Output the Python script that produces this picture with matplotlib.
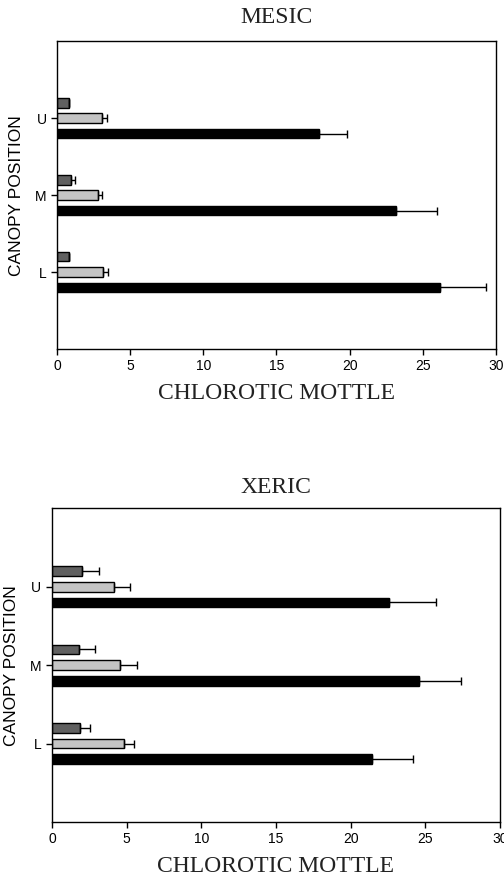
import matplotlib
matplotlib.use("Agg")
import matplotlib.pyplot as plt
import numpy as np

positions = ["L", "M", "U"]

# MESIC
mesic_dark = [0.8, 0.96, 0.8]
mesic_dark_err = [0.05, 0.3, 0.05]
mesic_light = [3.14, 2.78, 3.07]
mesic_light_err = [0.32, 0.32, 0.34]
mesic_black = [26.2, 23.2, 17.9]
mesic_black_err = [3.1, 2.8, 1.9]

# XERIC
xeric_dark = [1.9, 1.81, 2.03]
xeric_dark_err = [0.67, 1.09, 1.1]
xeric_light = [4.8, 4.56, 4.18]
xeric_light_err = [0.72, 1.14, 1.07]
xeric_black = [21.4, 24.6, 22.6]
xeric_black_err = [2.8, 2.8, 3.1]

fig = plt.figure(figsize=(5.04, 8.81), dpi=100)

def panel(rect, title, tpad, dark, dark_e, light, light_e, black, black_e):
    ax = fig.add_axes(rect)
    y = np.arange(1, len(positions) + 1)
    h = 0.125
    off = 0.2
    ekw = dict(ecolor="black", elinewidth=1.0, capsize=3, capthick=1.0)
    for vals, errs, dy, col in [(dark, dark_e, off, "#606060"),
                                (light, light_e, 0.0, "#c4c4c4"),
                                (black, black_e, -off, "black")]:
        ax.barh(y + dy, vals, height=h, color=col, edgecolor="black", linewidth=1.0,
                xerr=[np.zeros(len(errs)), errs], error_kw=ekw)
    ax.set_xlim(0, 30)
    ax.set_ylim(0, 4)
    ax.set_xticks(np.arange(0, 31, 5))
    ax.set_yticks(y)
    ax.set_yticklabels(positions)
    ax.tick_params(direction="out", length=4, width=1, labelsize=10, colors="black")
    for lab in ax.get_xticklabels() + ax.get_yticklabels():
        lab.set_family("Liberation Sans")
    for s in ax.spines.values():
        s.set_linewidth(1.0)
    ax.set_title(title, family="Liberation Serif", fontsize=17, pad=tpad, color="#222222")
    ax.set_xlabel("CHLOROTIC MOTTLE", family="Liberation Serif", fontsize=17, labelpad=7, color="#222222")
    ax.set_ylabel("CANOPY POSITION", family="Liberation Sans", fontsize=12.5, labelpad=8)
    return ax

panel([0.113, 0.604, 0.871, 0.349], "MESIC", 13, mesic_dark, mesic_dark_err,
      mesic_light, mesic_light_err, mesic_black, mesic_black_err)
panel([0.103, 0.067, 0.889, 0.356], "XERIC", 11, xeric_dark, xeric_dark_err,
      xeric_light, xeric_light_err, xeric_black, xeric_black_err)

fig.savefig("out.png", dpi=100)
